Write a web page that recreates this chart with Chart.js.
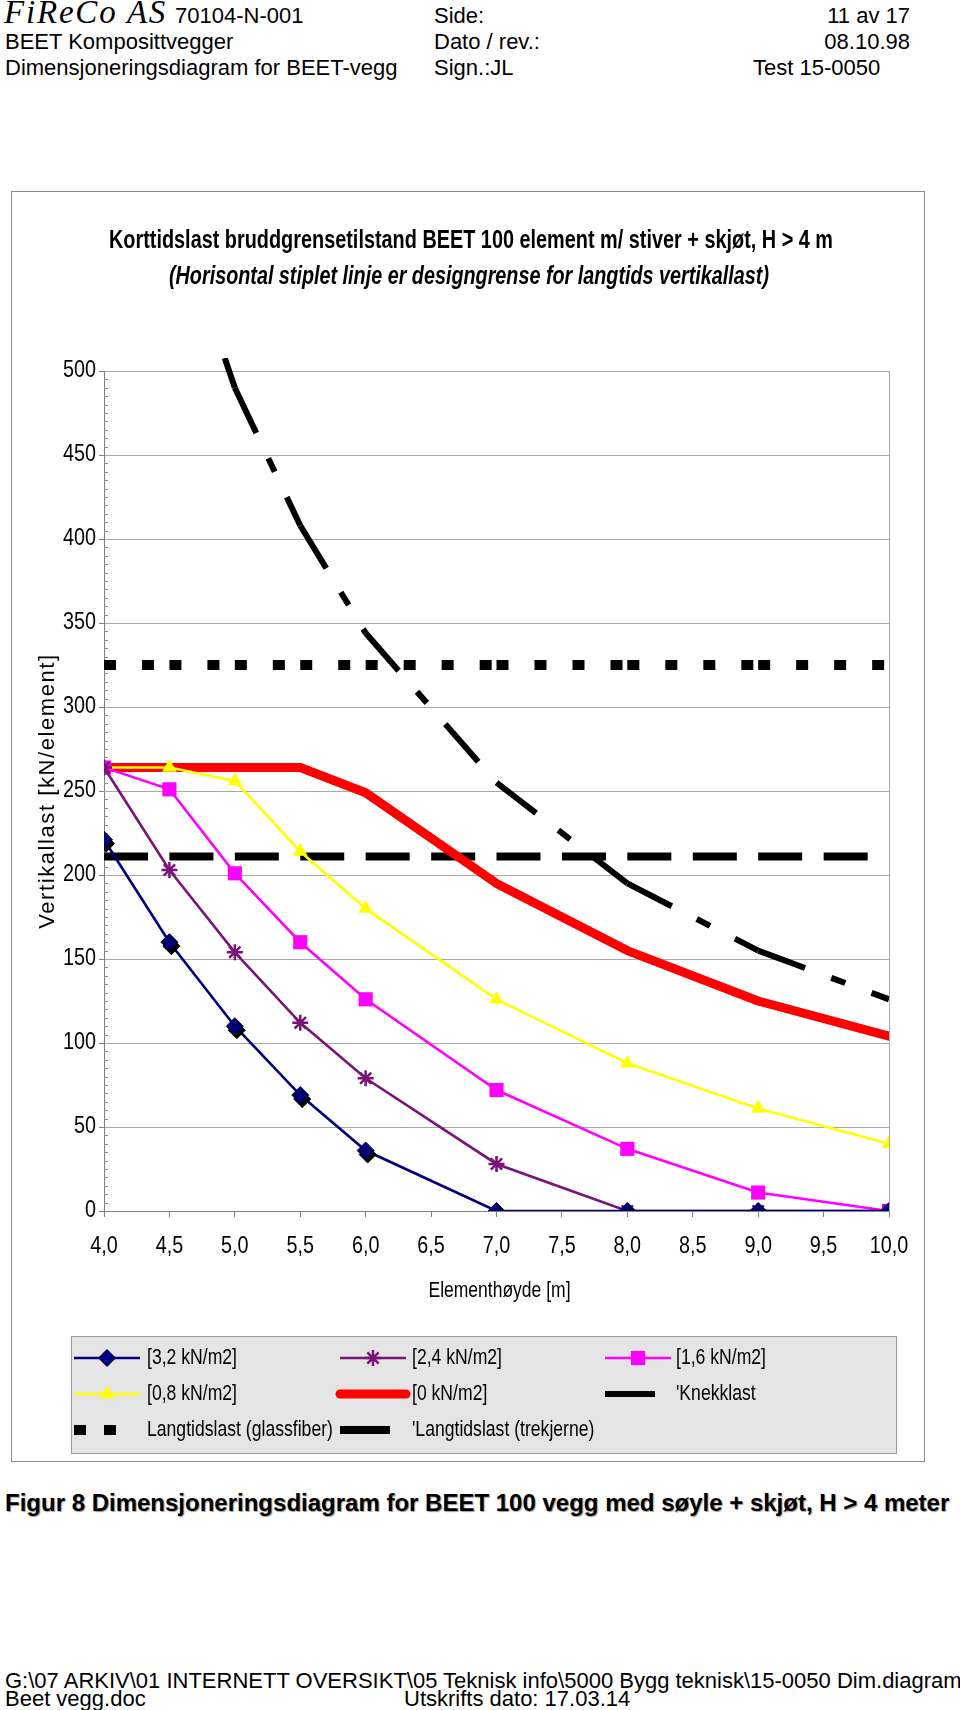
<!DOCTYPE html>
<html><head><meta charset="utf-8">
<script src="https://cdn.jsdelivr.net/npm/chart.js@4.4.1/dist/chart.umd.min.js"></script>
<style>
html,body{margin:0;padding:0;background:#fff;}
body{width:960px;height:1710px;position:relative;overflow:hidden;font-family:"Liberation Sans",Arial,sans-serif;color:#000;}
.t{position:absolute;white-space:nowrap;font-size:22px;line-height:26px;}
.f{position:absolute;white-space:nowrap;font-size:22px;line-height:20px;}
#frame{position:absolute;left:11px;top:191px;width:914px;height:1271px;border:1px solid #8c8c8c;box-sizing:border-box;}
#c{position:absolute;left:11px;top:191px;}
#cap{position:absolute;left:5px;top:1489px;white-space:nowrap;font-weight:bold;font-size:24px;line-height:28px;text-shadow:1px 1px 1px #9a9a9a;}
</style></head><body>
<div class="t" style="left:4px;top:-6px;line-height:36px;font-family:'Liberation Serif','Times New Roman',serif;font-style:italic;font-size:33px;letter-spacing:1.8px;">FiReCo AS</div>
<div class="t" style="left:175px;top:3px;">70104-N-001</div>
<div class="t" style="left:434px;top:3px;">Side:</div>
<div class="t" style="right:50px;top:3px;">11 av 17</div>
<div class="t" style="left:5px;top:29px;">BEET Komposittvegger</div>
<div class="t" style="left:434px;top:29px;">Dato / rev.:</div>
<div class="t" style="right:50px;top:29px;">08.10.98</div>
<div class="t" style="left:5px;top:55px;">Dimensjoneringsdiagram for BEET-vegg</div>
<div class="t" style="left:434px;top:55px;">Sign.:JL</div>
<div class="t" style="left:753px;top:55px;">Test 15-0050</div>

<div id="frame"></div>
<canvas id="c" width="914" height="1271"></canvas>

<div id="cap">Figur 8 Dimensjoneringsdiagram for BEET 100 vegg med søyle + skjøt, H &gt; 4 meter</div>
<div class="f" style="left:5px;top:1671px;">G:\07 ARKIV\01 INTERNETT OVERSIKT\05 Teknisk info\5000 Bygg teknisk\15-0050 Dim.diagram</div>
<div class="f" style="left:5px;top:1689px;">Beet vegg.doc</div>
<div class="f" style="left:404px;top:1689px;">Utskrifts dato: 17.03.14</div>

<script>
// ---------- DATA ----------
const xValues   = [4.0, 4.5, 5.0, 5.5, 6.0, 7.0, 8.0, 9.0, 10.0];
const load32    = [221, 160, 110, 69, 36, 0, 0, 0, 0];
const load24    = [264, 203, 154, 112, 79, 28, 0, 0, 0];
const load16    = [264, 251, 201, 160, 126, 72, 37, 11, 0];
const load08    = [264, 264, 256, 214, 180, 126, 88, 61, 40];
const load00    = [264, 264, 264, 264, 249, 195, 155, 125, 104];
const knekklast = [765, 605, 490, 408, 344, 255, 195, 155, 126];
const langGlass = [325, 325, 325, 325, 325, 325, 325, 325, 325];
const langTre   = [211, 211, 211, 211, 211, 211, 211, 211, 211];
const seriesNames = ['[3,2 kN/m2]', '[2,4 kN/m2]', '[1,6 kN/m2]', '[0,8 kN/m2]', '[0 kN/m2]', "'Knekklast", 'Langtidslast (glassfiber)', "'Langtidslast (trekjerne)"];
const xTickValues = [4.0, 4.5, 5.0, 5.5, 6.0, 6.5, 7.0, 7.5, 8.0, 8.5, 9.0, 9.5, 10.0];
const xTickLabels = ['4,0', '4,5', '5,0', '5,5', '6,0', '6,5', '7,0', '7,5', '8,0', '8,5', '9,0', '9,5', '10,0'];
const yTickLabels = ['0', '50', '100', '150', '200', '250', '300', '350', '400', '450', '500'];
const titleLines  = ['Korttidslast bruddgrensetilstand BEET 100 element m/ stiver + skjøt, H > 4 m',
                     '(Horisontal stiplet linje er designgrense for langtids vertikallast)'];
const xTitle = 'Elementhøyde [m]';
const yTitle = 'Vertikallast [kN/element]';

const SANS = '"Liberation Sans", Arial, sans-serif';

function pts(arr){ return xValues.map((x, i) => ({x: x, y: arr[i]})); }
const restart = { borderDashOffset: c => c.p0DataIndex * 0.001 };

const grey = '#a8a8a8';
const datasets = [
  {label: seriesNames[0], data: pts(load32), borderColor: '#000080', backgroundColor: '#000080', borderWidth: 2.6,
   pointStyle: 'rectRot', pointRadius: 8.5, pointBackgroundColor: '#000080', pointBorderColor: '#000033', pointBorderWidth: 1},
  {label: seriesNames[1], data: pts(load24), borderColor: '#7a1479', backgroundColor: '#7a1479', borderWidth: 2.6,
   pointStyle: 'star', pointRadius: 8, pointBorderColor: '#7a1479', pointBorderWidth: 2.5},
  {label: seriesNames[2], data: pts(load16), borderColor: '#ff00ff', backgroundColor: '#ff00ff', borderWidth: 2.6,
   pointStyle: 'rect', pointRadius: 10, pointBackgroundColor: '#ff00ff', pointBorderColor: '#ff00ff', pointBorderWidth: 0},
  {label: seriesNames[3], data: pts(load08), borderColor: '#ffff00', backgroundColor: '#ffff00', borderWidth: 2.6,
   pointStyle: 'triangle', pointRadius: 8.5, pointBackgroundColor: '#ffff00', pointBorderColor: '#ffff00', pointBorderWidth: 0},
  {label: seriesNames[4], data: pts(load00), borderColor: '#ff0000', backgroundColor: '#ff0000', borderWidth: 9,
   borderCapStyle: 'round', borderJoinStyle: 'round', pointRadius: 0},
  {label: seriesNames[5], data: pts(knekklast), borderColor: '#000', backgroundColor: '#000', borderWidth: 6,
   borderDash: [50, 28, 15, 28], borderCapStyle: 'butt', pointRadius: 0, legendDash: [], legendLen: 50,
   segment: { borderDashOffset: c => c.p0DataIndex === 1 ? 69.5 : c.p0DataIndex * 0.001 },
   clip: {left: 0, top: 13, right: 0, bottom: 0}},
  {label: seriesNames[6], data: pts(langGlass), borderColor: '#000', backgroundColor: '#000', borderWidth: 10,
   borderDash: [12, 26], borderCapStyle: 'butt', pointRadius: 0, segment: restart, legendDash: [12, 18], legendLen: 42},
  {label: seriesNames[7], data: pts(langTre), borderColor: '#000', backgroundColor: '#000', borderWidth: 8,
   borderDash: [44, 21.5], borderCapStyle: 'butt', pointRadius: 0, segment: restart, legendDash: [], legendLen: 50}
];

// text helper: condense by horizontal scaling, expand by letter spacing
function drawFit(ctx, text, x, y, font, target, align, rot, sxFixed){
  ctx.save();
  ctx.font = font;
  ctx.fillStyle = '#000';
  ctx.textBaseline = 'middle';
  ctx.translate(x, y);
  if (rot) ctx.rotate(rot);
  const w = ctx.measureText(text).width;
  let sx = sxFixed || 1;
  if (!sxFixed && target && w > target) sx = target / w;
  else if (!sxFixed && target && w < target && 'letterSpacing' in ctx) {
    ctx.letterSpacing = ((target - w) / (text.length - 1)).toFixed(2) + 'px';
  }
  const ww = ctx.measureText(text).width * sx;
  ctx.textAlign = 'left';
  let ox = 0;
  if (align === 'center') ox = -ww / 2;
  else if (align === 'right') ox = -ww;
  ctx.translate(ox, 0);
  ctx.scale(sx, 1);
  ctx.fillText(text, 0, 0);
  ctx.restore();
}

const deco = {
  id: 'deco',
  beforeDatasetsDraw(chart){
    const {ctx, chartArea: a, scales: {y}} = chart;
    ctx.save();
    ctx.strokeStyle = '#909090'; ctx.lineWidth = 1;
    for (let v = 0; v <= 500; v += 5){
      if (v % 50 === 0) continue;
      const py = Math.round(y.getPixelForValue(v)) + 0.5;
      ctx.beginPath(); ctx.moveTo(a.left, py); ctx.lineTo(a.left + 4, py); ctx.stroke();
    }
    ctx.restore();
  },
  afterDraw(chart){
    const {ctx, chartArea: a, scales: {x, y}} = chart;
    // tick labels (condensed like the original)
    xTickValues.forEach((v, i) => drawFit(ctx, xTickLabels[i], x.getPixelForValue(v), 1056, '23px ' + SANS, 0, 'center', 0, 0.86));
    yTickLabels.forEach(l => drawFit(ctx, l, 85, y.getPixelForValue(Number(l)), '23px ' + SANS, 0, 'right', 0, 0.86));
    // titles
    drawFit(ctx, titleLines[0], 460, 50, 'bold 25px ' + SANS, 724, 'center');
    drawFit(ctx, titleLines[1], 458, 86, 'italic bold 25px ' + SANS, 600, 'center');
    // axis titles
    drawFit(ctx, xTitle, (a.left + a.right) / 2 + 3, 1100, '22px ' + SANS, 142, 'center');
    drawFit(ctx, yTitle, 37, 600, '22px ' + SANS, 274, 'center', -Math.PI / 2);
    // legend box
    ctx.save();
    ctx.fillStyle = '#e4e4e4';
    ctx.fillRect(60, 1145, 826, 118);
    ctx.strokeStyle = '#9a9a9a'; ctx.lineWidth = 1;
    ctx.strokeRect(60.5, 1145.5, 825, 117);
    ctx.restore();
    const colLine = [63, 329, 594], colText = [136, 401, 665], rowY = [1167, 1203, 1239];
    ctx.save();
    ctx.font = '22px ' + SANS;
    const legScale = Math.min(1, 90 / ctx.measureText(seriesNames[0]).width);
    ctx.restore();
    chart.data.datasets.forEach((ds, i) => {
      const r = Math.floor(i / 3), c = i % 3;
      const x0 = colLine[c], x1 = x0 + (ds.legendLen || 66), yy = rowY[r];
      ctx.save();
      ctx.strokeStyle = ds.borderColor;
      ctx.lineWidth = ds.borderWidth;
      ctx.lineCap = ds.borderCapStyle || 'butt';
      ctx.setLineDash(ds.legendDash || ds.borderDash || []);
      ctx.beginPath(); ctx.moveTo(x0, yy); ctx.lineTo(x1, yy); ctx.stroke();
      ctx.setLineDash([]);
      if (ds.pointRadius > 0){
        ctx.fillStyle = ds.pointBackgroundColor || ds.borderColor;
        ctx.strokeStyle = ds.pointBorderColor || ds.borderColor;
        ctx.lineWidth = ds.pointBorderWidth;
        Chart.helpers.drawPoint(ctx, {pointStyle: ds.pointStyle, rotation: 0, radius: ds.pointRadius, borderWidth: ds.pointBorderWidth}, (x0 + x1) / 2, yy);
      }
      ctx.restore();
      drawFit(ctx, ds.label, colText[c], yy, '22px ' + SANS, 0, 'left', 0, legScale);
    });
  }
};

const chart = new Chart(document.getElementById('c'), {
  type: 'line',
  data: {datasets: datasets},
  options: {
    responsive: false, animation: false, devicePixelRatio: 1,
    layout: {padding: {left: 0, right: 36, top: 180, bottom: 191}},
    plugins: {legend: {display: false}, title: {display: false}, tooltip: {enabled: false}},
    elements: {line: {tension: 0}},
    scales: {
      x: {
        type: 'linear', min: 4, max: 10,
        afterFit(s){ s.height = 60; },
        afterBuildTicks(s){ s.ticks = xTickValues.map(v => ({value: v})); },
        ticks: {display: false, autoSkip: false, maxRotation: 0},
        grid: {color: c => (c.tick && c.tick.value === 10) ? grey : 'rgba(0,0,0,0)', tickColor: '#808080', tickLength: 6, drawTicks: true},
        border: {color: '#808080'}
      },
      y: {
        min: 0, max: 500,
        afterFit(s){ s.width = 93; },
        afterBuildTicks(s){ s.ticks = yTickLabels.map(l => ({value: Number(l)})); },
        ticks: {display: false},
        grid: {color: grey, tickColor: '#808080', tickLength: 5},
        border: {color: '#808080'}
      }
    }
  },
  plugins: [deco]
});

// dark drop shadow under the diamond markers, as in the printed original
chart.getDatasetMeta(0).data.forEach(p => {
  const d = p.draw.bind(p);
  p.draw = function(ctx, area){
    ctx.save();
    ctx.shadowColor = '#000';
    ctx.shadowOffsetX = 2; ctx.shadowOffsetY = 4; ctx.shadowBlur = 0;
    d(ctx, area);
    ctx.restore();
  };
});
chart.draw();
</script>
</body></html>
